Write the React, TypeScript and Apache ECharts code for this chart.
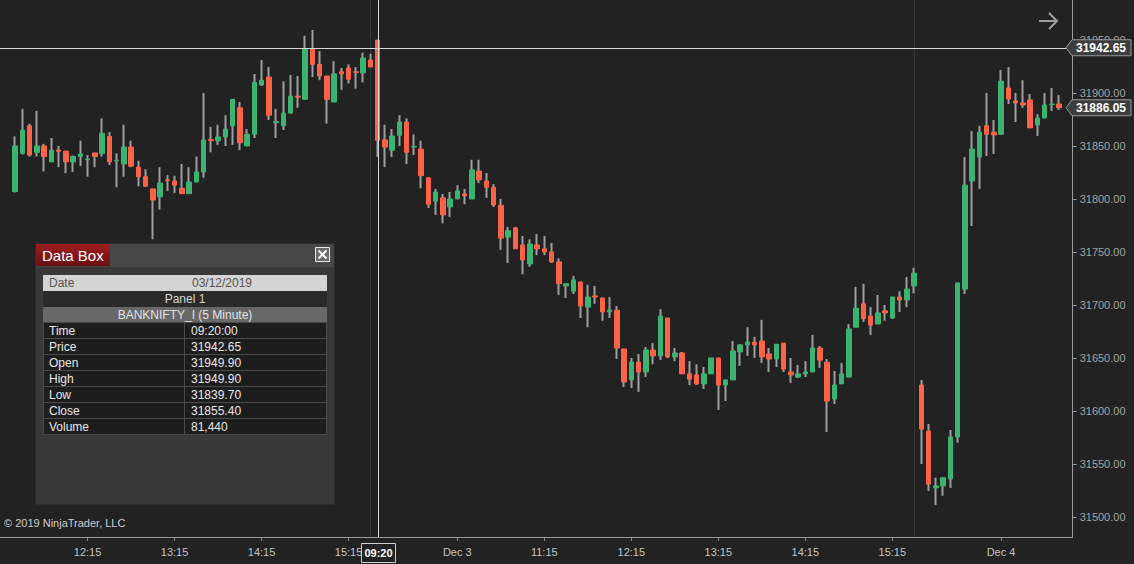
import React, { useEffect, useRef } from "react";
import * as echarts from "echarts";

// ---- sessions (5-minute bars, labelled by bar close time) ----
const sessions: [string, string, string][] = [
  ["12/02", "11:25", "15:30"],
  ["12/03", "09:20", "15:30"],
  ["12/04", "09:20", "10:55"],
];

function buildCategories(): string[] {
  const out: string[] = [];
  for (const [d, s, e] of sessions) {
    const toMin = (t: string) => parseInt(t.slice(0, 2)) * 60 + parseInt(t.slice(3));
    for (let m = toMin(s); m <= toMin(e); m += 5) {
      const hh = String(Math.floor(m / 60)).padStart(2, "0");
      const mm = String(m % 60).padStart(2, "0");
      out.push(`${d} ${hh}:${mm}`);
    }
  }
  return out;
}
const categories = buildCategories();

const xTickCats = ["12/02 12:15", "12/02 13:15", "12/02 14:15", "12/02 15:15", "12/03 10:15", "12/03 11:15", "12/03 12:15", "12/03 13:15", "12/03 14:15", "12/03 15:15", "12/04 10:15"];
const xTickTexts = ["12:15", "13:15", "14:15", "15:15", "Dec 3", "11:15", "12:15", "13:15", "14:15", "15:15", "Dec 4"];
const yTicks = [31500, 31550, 31600, 31650, 31700, 31750, 31800, 31850, 31900, 31950];

const opens = [
  31807, 31843, 31869, 31844, 31850, 31835, 31846, 31845, 31835, 31840,
  31837, 31843.4, 31843, 31859, 31836, 31833, 31849, 31830, 31821, 31809.5,
  31802, 31818, 31817, 31810, 31805, 31816, 31825.5, 31856, 31855, 31858.5,
  31869, 31886, 31850, 31861, 31907.5, 31915, 31872, 31869, 31881, 31897,
  31894, 31941.5, 31927, 31916, 31891.5, 31920, 31923.6, 31920, 31919, 31931,
  31949.9, 31855.7, 31846, 31860, 31872.6, 31849, 31847, 31820, 31798, 31801,
  31792.5, 31800, 31804.7, 31800, 31826.4, 31817, 31811, 31794, 31764, 31772.6,
  31756.6, 31738.7, 31756.6, 31753, 31750, 31740.6, 31718, 31713, 31721.7, 31698,
  31708.5, 31706.6, 31693.4, 31695, 31658.5, 31629.3, 31646, 31636.8, 31657.5, 31652,
  31687.7, 31651, 31654.7, 31635, 31634, 31625.5, 31635, 31650, 31624.5, 31629.3,
  31655.7, 31662.3, 31665, 31666, 31653.8, 31649, 31664, 31636.8, 31632, 31635,
  31636.8, 31659.4, 31646, 31611.3, 31625.5, 31632, 31679, 31701, 31689.6, 31682,
  31694.4, 31687.7, 31707.5, 31704.7, 31718, 31624.5, 31581, 31527.4, 31529.3, 31535.8,
  31575.5, 31715, 31817, 31839.6, 31869, 31863, 31861, 31904.7, 31892.4, 31890.6,
  31893.4, 31869.8, 31876.4, 31889, 31889.6,
];
const highs = [
  31859, 31885, 31871, 31883, 31852, 31857.5, 31850, 31845.5, 31841, 31855,
  31841.5, 31843.5, 31876, 31863, 31843, 31870, 31855, 31836, 31828, 31809.5,
  31830, 31822.6, 31822, 31833, 31830, 31840, 31900, 31868, 31870, 31879,
  31894, 31891.5, 31866, 31918, 31931, 31924.5, 31885, 31911, 31917, 31916,
  31954, 31959.4, 31939.6, 31916, 31930, 31923.6, 31927, 31924.5, 31938, 31937,
  31949.9, 31870, 31866, 31879, 31876, 31861, 31855, 31820, 31809.5, 31804.7,
  31806.6, 31813, 31809.5, 31837, 31837, 31824.5, 31814, 31800, 31773.6, 31773.6,
  31765, 31762, 31767, 31765, 31758.5, 31744, 31720, 31727.4, 31721.7, 31719,
  31718, 31706.6, 31707.5, 31699, 31658.5, 31650, 31653.8, 31660.4, 31664, 31696,
  31687.7, 31659.4, 31655.7, 31647, 31644, 31641.5, 31650, 31650, 31629.3, 31666,
  31663, 31679, 31670, 31686, 31659.4, 31663, 31664, 31650, 31643.4, 31647,
  31671.7, 31661.3, 31649, 31637.7, 31645.3, 31682, 31717, 31720, 31698, 31709.4,
  31700, 31707.5, 31713, 31726.4, 31735, 31629.3, 31587.7, 31537, 31537, 31582,
  31720.8, 31839.6, 31864, 31869, 31900, 31874.5, 31921.7, 31924.5, 31900, 31912,
  31899, 31880, 31900, 31904.7, 31898,
];
const lows = [
  31806, 31842, 31840, 31840, 31826, 31835, 31830, 31824.5, 31825.5, 31831,
  31821, 31830, 31840, 31832, 31811, 31821, 31830, 31812, 31812, 31762,
  31790, 31807.5, 31805.6, 31805, 31805, 31816, 31820, 31844, 31851, 31850,
  31851, 31846, 31850, 31857.5, 31906.6, 31874.5, 31857.5, 31865, 31881, 31886,
  31894, 31915, 31912, 31871, 31891.5, 31903, 31909, 31904, 31910, 31924.5,
  31839.7, 31830, 31839.6, 31850, 31833, 31841.5, 31810, 31791.5, 31785, 31777,
  31783, 31800, 31795, 31800, 31815, 31801, 31792.5, 31752, 31739.6, 31753,
  31729, 31736, 31747, 31747, 31739.6, 31709.4, 31706.6, 31710.4, 31687.7, 31679,
  31701, 31685, 31687.7, 31649, 31622.7, 31621.7, 31618, 31632, 31644, 31648,
  31650, 31647, 31635, 31624.5, 31624.5, 31620.8, 31635, 31601, 31609.4, 31629.3,
  31642.5, 31652, 31650, 31645.3, 31636.8, 31641.5, 31636.8, 31626.4, 31631, 31632,
  31636.8, 31640.6, 31580.2, 31606.6, 31625.5, 31632, 31679, 31684, 31671.7, 31682,
  31685, 31686.8, 31693.4, 31698, 31711, 31550, 31524.5, 31511.3, 31520, 31527.4,
  31570, 31710.4, 31774.5, 31809.5, 31840.6, 31842.5, 31861, 31889.6, 31872.6, 31886,
  31867, 31859.4, 31876.4, 31883, 31884,
];
const closes = [
  31850, 31865, 31841.5, 31850, 31840, 31846, 31845, 31835, 31840, 31842.5,
  31837.5, 31840, 31862, 31835, 31836.5, 31849, 31831, 31821, 31812, 31799,
  31815, 31817.5, 31813, 31805, 31816, 31825.5, 31855.7, 31855, 31858.5, 31866,
  31894, 31853, 31861, 31910, 31912, 31879, 31873, 31881, 31897, 31896,
  31941.5, 31927, 31916, 31894, 31918, 31918, 31913, 31919.5, 31933, 31924.5,
  31855.4, 31849, 31859.4, 31872.6, 31844, 31849.5, 31822, 31795, 31806.6, 31785,
  31800, 31807.5, 31803, 31827.4, 31818, 31811, 31794.3, 31763, 31770, 31753,
  31742.5, 31757.5, 31753, 31750, 31740.6, 31720, 31720, 31723.6, 31699, 31707.5,
  31707.5, 31693.4, 31695.3, 31659.4, 31627.4, 31646.2, 31636.8, 31657.5, 31652, 31689.6,
  31651, 31654.7, 31635, 31630, 31625.5, 31635, 31650, 31624.5, 31629.3, 31656.6,
  31662.3, 31665, 31662.3, 31651, 31649, 31663, 31639.6, 31634, 31635, 31636.8,
  31659.4, 31648, 31609.4, 31624.5, 31635, 31677.4, 31697, 31687, 31681, 31692.5,
  31692.5, 31707.5, 31704.7, 31715, 31730, 31583, 31531, 31529.3, 31537, 31575.5,
  31720.8, 31813, 31847, 31863, 31861, 31860.4, 31911, 31894.3, 31890.6, 31888.7,
  31867, 31876.4, 31888.7, 31889.5, 31886.05,
];

// crosshair / data box values
const crossIndex = 50;
const crossPrice = 31942.65;
const lastPrice = 31886.05;
const sessionEndIdx = [49, 124];
const dataBoxRows: [string, string][] = [
  ["Time", "09:20:00"],
  ["Price", "31942.65"],
  ["Open", "31949.90"],
  ["High", "31949.90"],
  ["Low", "31839.70"],
  ["Close", "31855.40"],
  ["Volume", "81,440"],
];

const UP = "#3cb371";
const DOWN = "#ff6347";
const WICK = "#9e9e9e";
const FONT = "'Liberation Sans', Arial, sans-serif";
const AXIS_X = 1073;
const AXIS_Y = 537;

export default function App() {
  const ref = useRef<HTMLDivElement>(null);
  useEffect(() => {
    document.body.style.margin = "0";
    const chart = echarts.init(ref.current!, null, { renderer: "svg" });
    const full = categories.map((_, i) => [opens[i], closes[i], lows[i], highs[i]]);
    const bodies = categories.map((_, i) => [
      opens[i], closes[i], Math.min(opens[i], closes[i]), Math.max(opens[i], closes[i]),
    ]);
    const tickMap: Record<string, string> = {};
    xTickCats.forEach((c, i) => (tickMap[c] = xTickTexts[i]));

    chart.setOption({
      animation: false,
      backgroundColor: "#222222",
      grid: { left: 11.4, right: 71.35, top: 0, bottom: 564 - AXIS_Y },
      xAxis: {
        type: "category",
        data: categories,
        boundaryGap: true,
        axisLine: { show: false },
        axisTick: {
          show: true,
          alignWithLabel: true,
          length: 4,
          interval: (_i: number, v: string) => v in tickMap,
          lineStyle: { color: "#8a8a8a" },
        },
        axisLabel: {
          interval: (_i: number, v: string) => v in tickMap,
          formatter: (v: string) => tickMap[v] ?? "",
          color: "#c4c4c4",
          fontSize: 11,
          fontFamily: FONT,
          margin: 9,
        },
        splitLine: { show: false },
      },
      yAxis: {
        type: "value",
        position: "right",
        offset: 10,
        min: 31481.1,
        max: 31987.7,
        axisLine: { show: true, lineStyle: { color: "#9a9a9a" } },
        axisTick: { show: true, length: 4, customValues: yTicks, lineStyle: { color: "#9a9a9a" } },
        axisLabel: {
          customValues: yTicks,
          formatter: (v: number) => v.toFixed(2),
          color: "#a4a4a4",
          fontSize: 11,
          fontFamily: FONT,
          margin: 7,
        },
        splitLine: { show: false },
      },
      series: [
        {
          type: "candlestick",
          name: "wicks",
          data: full,
          barWidth: 1,
          itemStyle: { color: WICK, color0: WICK, borderColor: WICK, borderColor0: WICK, borderWidth: 2 },
          z: 2,
        },
        {
          type: "candlestick",
          name: "bodies",
          data: bodies,
          barWidth: 5,
          itemStyle: { color: UP, color0: DOWN, borderColor: UP, borderColor0: DOWN, borderWidth: 1 },
          z: 3,
        },
      ],
    });

    const px = (i: number, v: number) => chart.convertToPixel({ xAxisIndex: 0, yAxisIndex: 0 }, [i, v]) as number[];
    const crisp = (v: number) => Math.round(v) + 0.5;
    const g: any[] = [];

    // session break lines
    sessionEndIdx.forEach((idx) => {
      const x = crisp(px(idx, 31700)[0]);
      g.push({ type: "line", z: 1, shape: { x1: x, y1: 0, x2: x, y2: AXIS_Y }, style: { stroke: "#353535", lineWidth: 1 } });
    });
    // bottom axis line
    g.push({ type: "line", z: 5, shape: { x1: 0, y1: AXIS_Y + 0.5, x2: AXIS_X, y2: AXIS_Y + 0.5 }, style: { stroke: "#9a9a9a", lineWidth: 1 } });

    // crosshair
    const cy = crisp(px(crossIndex, crossPrice)[1]);
    const cx = crisp(px(crossIndex, crossPrice)[0]);
    g.push({ type: "line", z: 50, shape: { x1: 0, y1: cy, x2: AXIS_X, y2: cy }, style: { stroke: "#d8d8d8", lineWidth: 1 } });
    g.push({ type: "line", z: 50, shape: { x1: cx, y1: 0, x2: cx, y2: AXIS_Y }, style: { stroke: "#d8d8d8", lineWidth: 1 } });

    // price markers
    const marker = (price: number) => {
      const y = px(0, price)[1];
      const x0 = AXIS_X - 1;
      g.push({
        type: "polygon", z: 60,
        shape: { points: [[x0 - 6, y], [x0, y - 8], [1131, y - 8], [1131, y + 8], [x0, y + 8]] },
        style: { fill: "#3d3d3d", stroke: "#9a9a9a", lineWidth: 1 },
      });
      g.push({
        type: "text", z: 61,
        style: { text: price.toFixed(2), x: 1101, y: y, textAlign: "center", textVerticalAlign: "middle", fill: "#ffffff", fontSize: 12, fontWeight: "bold", fontFamily: FONT },
      });
    };
    marker(crossPrice);
    marker(lastPrice);

    // time box at bottom
    g.push({ type: "rect", z: 60, shape: { x: cx - 17, y: 543.5, width: 34, height: 19 }, style: { fill: "#222222", stroke: "#cfcfcf", lineWidth: 1 } });
    g.push({ type: "text", z: 61, style: { text: categories[crossIndex].slice(6), x: cx, y: 553, textAlign: "center", textVerticalAlign: "middle", fill: "#ffffff", fontSize: 11, fontWeight: "bold", fontFamily: FONT } });

    // arrow top right
    g.push({ type: "polyline", z: 60, shape: { points: [[1039, 21], [1057, 21]] }, style: { stroke: "#a0a0a0", lineWidth: 2 } });
    g.push({ type: "polyline", z: 60, shape: { points: [[1049, 13], [1057, 21], [1049, 29]] }, style: { stroke: "#a0a0a0", lineWidth: 2, fill: "none" } });

    // copyright
    g.push({ type: "text", z: 60, style: { text: "© 2019 NinjaTrader, LLC", x: 4, y: 523, textVerticalAlign: "middle", fill: "#cfcfcf", fontSize: 11, fontFamily: FONT } });

    // Data box
    const Z = 100;
    g.push({ type: "rect", z: Z, shape: { x: 35.5, y: 243.5, width: 299, height: 261 }, style: { fill: "#393939", stroke: "#2b2b2b", lineWidth: 1 } });
    g.push({ type: "rect", z: Z, shape: { x: 36, y: 244, width: 298, height: 23 }, style: { fill: "#474747" } });
    g.push({
      type: "rect", z: Z + 1, shape: { x: 36, y: 244, width: 74, height: 22 },
      style: { fill: { type: "linear", x: 0, y: 0, x2: 0, y2: 1, colorStops: [{ offset: 0, color: "#a11d1d" }, { offset: 1, color: "#6a1010" }] } },
    });
    g.push({ type: "text", z: Z + 2, style: { text: "Data Box", x: 42, y: 255.5, textVerticalAlign: "middle", fill: "#ffffff", fontSize: 15, fontFamily: FONT } });
    g.push({ type: "rect", z: Z + 1, shape: { x: 315.5, y: 247.5, width: 14, height: 14 }, style: { fill: "#6a6a6a", stroke: "#e6e6e6", lineWidth: 1 } });
    g.push({ type: "line", z: Z + 2, shape: { x1: 318.5, y1: 250.5, x2: 326.5, y2: 258.5 }, style: { stroke: "#ffffff", lineWidth: 2 } });
    g.push({ type: "line", z: Z + 2, shape: { x1: 326.5, y1: 250.5, x2: 318.5, y2: 258.5 }, style: { stroke: "#ffffff", lineWidth: 2 } });

    const TX = 43, TW = 284, COL = 184.5;
    g.push({ type: "rect", z: Z + 1, shape: { x: TX, y: 275, width: TW, height: 16 }, style: { fill: "#d4d4d4" } });
    g.push({ type: "text", z: Z + 2, style: { text: "Date", x: 49, y: 283, textVerticalAlign: "middle", fill: "#555555", fontSize: 12, fontFamily: FONT } });
    g.push({ type: "text", z: Z + 2, style: { text: "03/12/2019", x: 222, y: 283, textAlign: "center", textVerticalAlign: "middle", fill: "#555555", fontSize: 12, fontFamily: FONT } });
    g.push({ type: "rect", z: Z + 1, shape: { x: TX, y: 291, width: TW, height: 16 }, style: { fill: "#2a2a2a" } });
    g.push({ type: "text", z: Z + 2, style: { text: "Panel 1", x: 185, y: 299, textAlign: "center", textVerticalAlign: "middle", fill: "#d6d6d6", fontSize: 12, fontFamily: FONT } });
    g.push({ type: "rect", z: Z + 1, shape: { x: TX, y: 307, width: TW, height: 15 }, style: { fill: "#686868" } });
    g.push({ type: "text", z: Z + 2, style: { text: "BANKNIFTY_I (5 Minute)", x: 185, y: 314.5, textAlign: "center", textVerticalAlign: "middle", fill: "#e2e2e2", fontSize: 12, fontFamily: FONT } });
    const top = 322;
    g.push({ type: "rect", z: Z + 1, shape: { x: TX + 0.5, y: top + 0.5, width: TW - 1, height: dataBoxRows.length * 16 }, style: { fill: "#1d1d1d", stroke: "#4a4a4a", lineWidth: 1 } });
    dataBoxRows.forEach(([k, v], i) => {
      const y0 = top + i * 16;
      if (i > 0) g.push({ type: "line", z: Z + 2, shape: { x1: TX, y1: y0 + 0.5, x2: TX + TW, y2: y0 + 0.5 }, style: { stroke: "#4a4a4a", lineWidth: 1 } });
      g.push({ type: "text", z: Z + 3, style: { text: k, x: 49, y: y0 + 8.5, textVerticalAlign: "middle", fill: "#e8e8e8", fontSize: 12, fontFamily: FONT } });
      g.push({ type: "text", z: Z + 3, style: { text: v, x: 191, y: y0 + 8.5, textVerticalAlign: "middle", fill: "#e8e8e8", fontSize: 12, fontFamily: FONT } });
    });
    g.push({ type: "line", z: Z + 2, shape: { x1: COL, y1: top, x2: COL, y2: top + dataBoxRows.length * 16 }, style: { stroke: "#4a4a4a", lineWidth: 1 } });

    chart.setOption({ graphic: g });
    return () => chart.dispose();
  }, []);
  return <div ref={ref} style={{ position: "fixed", left: 0, top: 0, width: 1134, height: 564 }} />;
}
